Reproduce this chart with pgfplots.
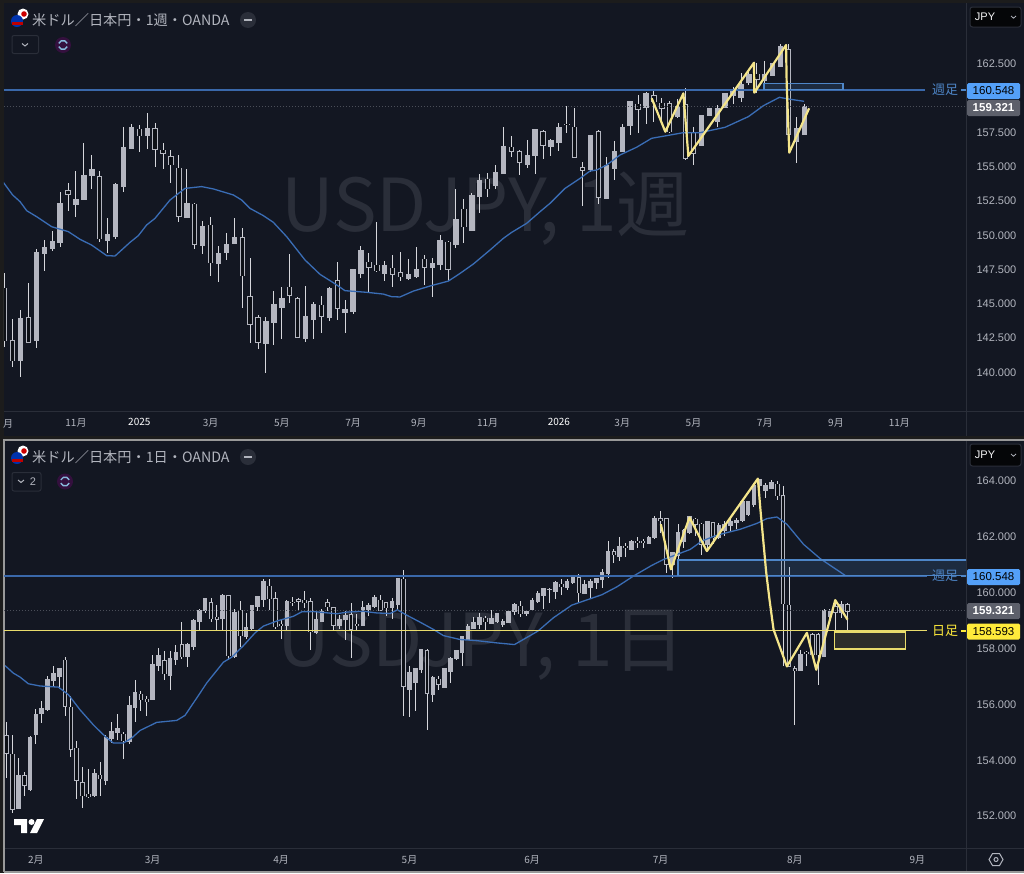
\documentclass[border=0pt]{standalone}
\usepackage{fontspec}
\usepackage{pgfplots}
\usepackage{pgfplotstable}
\pgfplotsset{compat=1.18}
\setmainfont{Liberation Sans}
\newfontfamily\cjk{Noto Sans CJK JP}

\definecolor{page}{HTML}{1C1C1C}
\definecolor{panel}{HTML}{131722}
\definecolor{sep}{HTML}{2A2E39}
\definecolor{tickc}{HTML}{B2B5BE}
\definecolor{wick}{HTML}{D6D7DC}
\definecolor{bodyc}{HTML}{B4B6C0}
\definecolor{hollow}{HTML}{0D1016}
\definecolor{mablue}{HTML}{3A6DB5}
\definecolor{levelblue}{HTML}{3A68AA}
\definecolor{taglight}{HTML}{4E86C8}
\definecolor{zig}{HTML}{F4E58A}
\definecolor{dailyline}{HTML}{E9DC6C}
\definecolor{watermark}{HTML}{2A2E39}
\definecolor{blueflag}{HTML}{54A0F8}
\definecolor{greyflag}{HTML}{5D606B}
\definecolor{yelflag}{HTML}{FFEB3B}
\definecolor{dots}{HTML}{4A4E58}

% weekly candles
\pgfplotstableread{
i o h l c
0 146.04 147.18 141.78 142.22
1 142.22 143.77 140.27 140.75
2 140.75 144.46 139.54 143.85
3 143.90 146.40 142.07 142.12
4 142.22 148.89 141.66 148.64
5 148.60 149.57 147.33 149.03
6 148.94 150.25 148.79 149.47
7 149.42 153.10 149.08 152.25
8 153.17 153.76 151.71 152.91
9 152.20 154.63 151.23 152.54
10 152.56 156.63 152.54 154.29
11 154.32 155.80 153.27 154.68
12 154.20 154.63 149.45 149.67
13 149.57 151.15 148.60 149.96
14 149.81 153.71 149.67 153.59
15 153.51 157.85 153.10 156.34
16 156.27 158.02 156.24 157.75
17 157.65 157.97 155.97 157.19
18 157.17 158.82 156.19 157.68
19 157.68 158.09 154.93 156.19
20 156.14 156.63 154.73 155.90
21 155.66 156.14 153.71 155.07
22 154.80 155.80 150.91 151.32
23 151.25 154.76 151.18 152.25
24 152.18 152.25 148.89 149.25
25 149.18 150.93 148.55 150.59
26 150.64 151.23 146.94 147.91
27 147.87 149.13 146.53 148.55
28 148.69 150.11 148.11 149.25
29 149.30 151.15 149.28 149.76
30 149.74 150.45 144.58 146.96
31 145.43 148.23 142.07 143.41
32 143.90 144.07 141.58 142.09
33 142.02 143.97 139.88 143.63
34 143.53 145.87 141.90 144.87
35 144.63 146.11 142.34 145.31
36 146.11 148.55 144.94 145.55
37 145.28 145.38 142.39 142.48
38 142.41 146.21 142.14 143.97
39 143.80 145.02 142.34 144.82
40 144.80 145.48 142.75 144.02
41 143.94 146.16 143.68 146.06
42 146.60 147.94 143.73 144.58
43 144.27 145.19 142.78 144.46
44 144.33 147.48 144.18 147.43
45 147.13 149.13 146.77 148.77
46 147.94 148.64 145.80 147.57
47 147.72 150.88 147.28 147.33
48 147.13 148.01 146.57 147.67
49 147.50 148.45 146.16 147.09
50 147.18 148.72 146.57 146.89
51 146.77 148.16 146.65 147.06
52 146.89 149.06 146.77 147.38
53 148.16 148.50 146.28 147.57
54 147.55 148.23 145.43 147.87
55 147.82 149.91 147.38 149.50
56 149.42 149.47 146.57 147.43
57 149.28 153.27 149.01 151.08
58 151.81 152.54 149.37 150.54
59 150.30 153.03 150.25 152.83
60 152.76 154.37 151.52 153.95
61 154.00 154.44 152.73 153.32
62 153.59 155.02 153.30 154.49
63 154.42 157.85 154.37 156.39
64 156.36 157.17 155.61 156.05
65 156.00 156.14 154.32 155.24
66 155.07 156.87 154.85 155.75
67 155.78 157.68 154.37 157.65
68 157.48 157.61 155.49 156.48
69 156.39 156.95 155.71 156.80
70 156.68 158.09 156.05 157.82
71 158.04 159.33 157.41 157.99
72 157.80 159.18 155.56 155.63
73 154.83 155.27 152.05 154.66
74 154.73 157.24 154.51 157.17
75 157.48 157.61 152.22 152.69
76 152.61 155.61 152.54 154.98
77 154.78 156.80 153.95 156.02
78 156.07 158.04 156.02 157.75
79 157.95 159.72 157.24 159.67
80 159.50 160.16 157.36 159.14
81 159.26 160.36 158.04 160.28
82 160.11 160.43 158.21 159.67
83 159.55 159.92 158.20 159.19
84 159.50 159.75 157.40 157.48
85 158.63 159.90 158.50 159.31
86 159.43 160.65 155.40 155.54
87 157.45 157.80 155.05 155.90
88 156.51 158.70 156.46 158.63
89 158.67 159.19 158.62 159.14
90 158.21 159.40 157.85 159.19
91 159.26 160.29 159.20 160.24
92 160.16 160.77 159.50 160.50
93 159.99 161.74 159.68 160.90
94 161.09 161.87 160.89 161.62
95 161.67 162.48 160.30 161.33
96 161.21 162.67 160.65 161.62
97 161.57 162.50 161.55 162.48
98 162.23 163.89 162.18 163.69
99 163.45 163.89 157.25 157.31
100 156.77 158.53 155.22 157.73
101 157.31 159.50 157.28 159.32
}\weekly

% daily candles
\pgfplotstableread{
i o h l c
0 154.84 155.34 153.31 154.21
1 154.17 154.87 152.08 152.20
2 152.22 154.05 152.20 153.40
3 153.40 153.55 152.68 153.07
4 152.92 154.81 152.87 154.77
5 154.89 155.79 154.54 155.58
6 155.63 156.06 155.28 155.79
7 155.76 156.96 155.70 156.84
8 156.80 157.31 156.57 157.05
9 156.96 157.25 156.50 157.23
10 157.53 157.65 155.52 155.88
11 155.85 156.26 154.07 154.35
12 154.39 154.63 152.56 153.25
13 153.16 153.73 152.24 152.69
14 152.74 153.64 152.62 152.66
15 152.68 153.64 152.63 153.49
16 153.42 153.91 152.68 153.29
17 153.22 154.87 153.07 154.78
18 154.73 155.34 154.57 154.99
19 154.95 155.62 154.69 155.08
20 154.89 154.98 153.99 154.65
21 154.63 156.26 154.54 155.90
22 155.85 156.81 155.34 156.37
23 156.32 156.42 155.70 156.12
24 156.13 156.24 155.52 156.05
25 156.12 157.73 156.11 157.36
26 157.36 157.97 157.13 157.70
27 157.52 157.85 156.84 157.04
28 156.98 157.85 156.45 157.58
29 157.54 158.09 157.37 157.79
30 158.08 158.90 157.58 157.65
31 157.65 158.13 157.28 158.08
32 158.02 158.99 157.89 158.96
33 158.93 159.37 158.57 159.32
34 159.32 159.76 159.22 159.73
35 159.58 159.76 158.89 159.01
36 159.07 159.52 158.60 158.99
37 159.01 159.88 158.57 159.86
38 159.84 159.84 157.53 157.70
39 157.65 159.37 157.62 159.25
40 159.32 159.64 158.00 158.41
41 158.39 159.22 158.29 158.69
42 158.65 159.52 158.60 159.49
43 159.44 159.84 159.28 159.80
44 159.70 160.42 159.44 160.33
45 160.18 160.45 159.34 159.73
46 159.73 159.96 158.65 158.72
47 158.81 158.99 158.29 158.78
48 158.78 159.70 158.60 159.62
49 159.61 159.80 159.46 159.58
50 159.69 159.76 159.34 159.64
51 159.68 160.00 159.40 159.58
52 159.62 159.76 157.89 158.55
53 158.53 159.28 158.48 158.99
54 158.93 159.37 158.89 159.27
55 159.58 159.73 159.28 159.44
56 159.40 159.44 158.59 158.79
57 158.77 159.16 158.63 158.97
58 158.99 159.28 158.27 159.13
59 159.16 159.56 157.61 158.63
60 158.82 159.20 158.59 158.79
61 158.77 159.64 158.75 159.40
62 159.34 159.58 159.10 159.49
63 159.46 159.86 159.40 159.76
64 159.68 159.86 159.28 159.32
65 159.58 159.61 159.10 159.40
66 159.43 159.76 158.99 159.62
67 159.52 160.48 159.34 160.44
68 160.42 160.74 155.55 156.60
69 156.48 157.31 155.50 157.08
70 156.72 157.25 155.70 157.25
71 157.19 157.91 157.07 157.91
72 157.87 157.93 155.02 156.36
73 156.31 156.96 156.04 156.92
74 156.86 156.96 156.45 156.68
75 156.57 157.25 156.54 157.23
76 157.13 157.65 156.72 157.60
77 157.58 157.91 157.55 157.87
78 157.82 158.41 157.31 158.39
79 158.29 158.83 158.27 158.75
80 158.65 159.08 158.63 158.87
81 158.81 159.22 158.65 159.07
82 159.04 159.10 158.59 158.90
83 158.84 159.32 158.81 159.01
84 158.90 159.22 158.87 159.20
85 158.79 159.01 158.72 158.92
86 158.88 159.32 158.85 159.28
87 159.28 159.58 159.16 159.52
88 159.46 159.64 159.08 159.20
89 159.19 159.34 159.10 159.28
90 159.33 159.75 159.31 159.68
91 159.62 159.99 159.58 159.92
92 159.85 160.12 159.37 160.08
93 160.06 160.11 159.58 160.07
94 159.99 160.35 159.73 160.32
95 160.25 160.42 159.85 160.16
96 160.12 160.42 160.04 160.36
97 160.30 160.59 160.26 160.56
98 160.48 160.60 159.56 159.94
99 159.92 160.38 159.90 160.23
100 160.13 160.42 159.73 160.36
101 160.31 160.48 160.06 160.45
102 160.42 160.80 160.12 160.67
103 160.63 161.79 160.48 161.42
104 161.40 161.49 160.99 161.30
105 161.23 161.95 161.08 161.60
106 161.60 161.73 161.23 161.58
107 161.49 161.83 161.48 161.79
108 161.79 161.93 161.55 161.75
109 161.78 161.87 161.53 161.75
110 161.71 161.97 161.70 161.92
111 161.91 162.69 161.87 162.59
112 162.59 162.87 162.09 162.51
113 162.59 162.63 160.66 160.96
114 160.96 161.37 160.48 161.37
115 161.28 162.39 160.96 162.09
116 161.79 162.21 161.55 162.15
117 162.09 162.69 162.03 162.65
118 162.57 162.63 161.97 162.39
119 162.39 162.45 161.28 161.67
120 161.67 162.51 161.43 162.48
121 162.45 162.47 161.67 161.91
122 161.91 162.45 161.87 162.33
123 162.15 162.51 161.97 162.39
124 162.33 162.63 162.15 162.48
125 162.45 162.63 162.21 162.51
126 162.51 163.22 162.47 163.20
127 162.75 163.22 162.69 163.20
128 163.10 163.88 163.02 163.76
129 163.76 164.02 163.70 163.98
130 163.58 163.88 163.34 163.76
131 163.67 163.96 163.64 163.88
132 163.82 163.94 163.25 163.40
133 163.40 163.74 157.31 159.55
134 159.49 160.87 157.29 157.31
135 157.22 157.31 155.22 157.17
136 157.17 157.91 157.16 157.73
137 157.82 157.87 157.31 157.77
138 158.45 158.51 157.70 157.73
139 158.45 158.51 156.66 157.73
140 157.67 159.37 157.65 159.31
141 159.10 159.37 158.93 159.28
142 159.44 159.64 158.60 159.25
143 159.25 159.64 159.05 159.52
144 159.52 159.56 158.60 159.28
}\daily

% wick, body and the dark inside of the down candles; #2 body width, #3 half outline in price
\newcommand{\candles}[3]{
  \addplot[draw=none, mark=none, error bars/.cd, y dir=both, y explicit, error mark=none,
    error bar style={draw=wick, line width=1pt}]
    table[x=i, y=c, y error plus expr=\thisrow{h}-\thisrow{c}, y error minus expr=\thisrow{c}-\thisrow{l}] {#1};
  \addplot[draw=none, mark=none, error bars/.cd, y dir=both, y explicit, error mark=none,
    error bar style={draw=bodyc, line width=#2pt}]
    table[x=i, y expr=(\thisrow{o}+\thisrow{c})/2, y error expr=abs(\thisrow{o}-\thisrow{c})/2+#3] {#1};
  \addplot[draw=none, mark=none, error bars/.cd, y dir=both, y explicit, error mark=none,
    error bar style={draw=hollow, line width=#2pt-2pt}]
    table[x=i, y expr={\thisrow{o}>\thisrow{c} ? (\thisrow{o}+\thisrow{c})/2 : nan}, y error expr=abs(\thisrow{o}-\thisrow{c})/2] {#1};
}

\pgfplotsset{
  panel/.style={
    scale only axis, width=962pt, anchor=south west,
    axis line style={draw=none}, major tick length=0pt,
    xtick pos=bottom, ytick pos=right,
    x tick label style={font=\cjk\fontsize{10}{12}\selectfont, text=tickc, yshift=-4pt},
    y tick label style={font=\fontsize{11}{13}\selectfont, text=tickc, xshift=7pt, yshift=-1.2pt},
    /pgf/number format/.cd, fixed, fixed zerofill, precision=3, 1000 sep={}, assume math mode=true,
  },
}

\newcommand{\pricebox}[5]{% y, fill, text colour, label, weight
  \fill[#2, rounded corners=1.5pt] (967,#1-8) rectangle (1020,#1+8);
  \node[text=#3, font=\fontsize{11.5}{13}#5\selectfont] at (993.5,#1) {#4};
}

\begin{document}
\begin{tikzpicture}[x=1pt, y=-1pt]
\path[use as bounding box, fill=page] (0,0) rectangle (1024,873);
% panes
\fill[panel] (4,3) rectangle (1024,436);
\fill[panel] (4,440) rectangle (1024,871);
\draw[sep, line width=1pt] (4,411) -- (1024,411) (966,3) -- (966,436);
\draw[sep, line width=1pt] (4,848) -- (1024,848) (966,440) -- (966,871);
\draw[white!55!page, line width=2pt] (3.5,871.5) -- (3.5,439.5) -- (1024,439.5) (3.5,871.5) -- (1024,871.5);
% watermarks
\node[text=watermark, font=\cjk\fontsize{73}{80}\selectfont] at (485.5,209) {USDJPY, 1週};
\node[text=watermark, font=\cjk\fontsize{73}{80}\selectfont] at (481.5,645) {USDJPY, 1日};

\begin{axis}[panel, at={(4pt,-411pt)}, height=408pt,
  xmin=-0.09, xmax=121.42, ymin=137.08, ymax=166.88,
  xtick={9,17,26,35,44,52.3,61,70,78,87,96,105,113},
  xticklabels={11月,\textcolor{white}{2025},3月,5月,7月,9月,11月,\textcolor{white}{2026},3月,5月,7月,9月,11月},
  ytick={140,142.5,145,147.5,150,152.5,155,157.5,162.5},
]
\candles{\weekly}{5.4}{0.04}
\addplot[draw=mablue, line width=1.3pt] coordinates {
 (-0.17,153.78)(1,152.86)(1.94,152.37)(2.78,151.71)(4.04,151.27)(5.94,150.54)(8.04,150.18)(9.51,149.62)
 (10.98,149.20)(12.88,148.43)(13.93,148.40)(15.83,149.40)(16.88,149.89)(17.93,150.67)(18.98,151.15)
 (20.88,152.49)(22.77,153.34)(24.88,153.47)(26.35,153.30)(28.88,152.86)(29.93,152.49)(30.98,151.88)
 (32.67,151.35)(33.93,150.86)(35.62,149.81)(37.93,148.11)(39.83,147.06)(41.64,146.40)(42.98,145.87)
 (45.72,145.75)(47.83,145.62)(48.88,145.43)(49.93,145.41)(51.62,145.84)(53.72,146.21)(56.04,146.57)
 (57.51,147.13)(59.2,147.82)(61.3,148.84)(62.98,149.69)(64.04,150.13)(65.93,150.79)(67.62,151.64)
 (68.88,152.25)(70.77,153.34)(72.67,154.07)(73.93,154.61)(74.77,154.68)(76.04,155.05)(77.72,155.78)
 (79.83,156.35)(81.72,157.0)(83.4,157.17)(85.72,157.41)(87.83,157.41)(90.98,157.80)(93.93,158.58)
 (95.83,159.38)(97.85,159.99)(99.2,159.85)(100.96,159.70)};
\addplot[draw=dots, dotted, line width=1pt] coordinates {(-0.09,159.321)(121.42,159.321)};
\addplot[draw=levelblue, line width=1.8pt] coordinates {(-0.09,160.548)(116.24,160.548)};
\addplot[draw=taglight, line width=1.6pt, fill=taglight, fill opacity=0.18, draw opacity=1]
  coordinates {(95.9,160.55)(105.9,160.55)(105.9,161.01)(95.9,161.01)} -- cycle;
\addplot[draw=zig, line width=2.2pt, line join=round] coordinates {
 (81.72,159.92)(83.44,157.48)(85.72,160.28)(86.35,155.71)(94.64,162.52)(94.68,160.33)
 (98.69,163.81)(98.77,161.01)(99.1,155.95)(101.6,159.19)};
\end{axis}

\begin{axis}[panel, at={(4pt,-848pt)}, height=408pt,
  xmin=-0.46, xmax=164.32, ymin=150.82, ymax=165.40,
  xtick={5,25,47,69,90,112,135,156},
  xticklabels={2月,3月,4月,5月,6月,7月,8月,9月},
  ytick={152,154,156,158,160,162,164},
]
\candles{\daily}{4.6}{0.018}
\addplot[draw=mablue, line width=1.3pt] coordinates {
 (-0.29,157.34)(1.14,157.07)(2.28,156.93)(3.71,156.69)(5.71,156.61)(8.85,156.57)(10.57,156.30)(12.56,155.76)
 (14.85,155.22)(16.85,154.81)(18.28,154.57)(19.99,154.57)(21.42,154.75)(22.84,155.02)(25.7,155.31)
 (29.13,155.38)(30.55,155.56)(32.55,156.18)(34.27,156.72)(37.12,157.46)(38.55,157.64)(40.55,158.05)
 (42.55,158.51)(43.97,158.75)(46.26,158.93)(49.11,159.10)(50.54,159.26)(52.54,159.27)(56.54,159.19)
 (58.25,159.25)(61.11,159.28)(63.39,159.22)(65.68,159.20)(66.93,159.33)(68.53,159.14)(70.82,158.89)
 (73.1,158.63)(74.82,158.41)(77.67,158.27)(80.53,158.23)(83.96,158.15)(86.98,158.09)(90.98,158.57)
 (93.66,159.05)(96.8,159.50)(101.94,159.87)(104.5,160.15)(107.37,160.54)(110.5,160.92)(112.5,161.13)
 (117.08,161.49)(119.08,161.79)(121.65,162.0)(125.64,162.21)(128.5,162.42)(130.2,162.59)(131.93,162.65)
 (133.64,162.39)(136.5,161.67)(139.35,161.16)(143.63,160.56)};
\addplot[draw=dots, dotted, line width=1pt] coordinates {(-0.46,159.321)(164.32,159.321)};
\addplot[draw=levelblue, line width=1.8pt] coordinates {(-0.46,160.548)(157.6,160.548)};
\addplot[draw=dailyline, line width=1.2pt] coordinates {(-0.46,158.593)(157.6,158.593)};
\addplot[draw=taglight, line width=1.6pt, fill=taglight, fill opacity=0.18, draw opacity=1]
  coordinates {(114.96,160.56)(165,160.56)(165,161.11)(114.96,161.11)} -- cycle;
\addplot[draw=dailyline, line width=1.2pt, fill=dailyline, fill opacity=0.12, draw opacity=1]
  coordinates {(141.8,157.93)(153.99,157.93)(153.99,158.54)(141.8,158.54)} -- cycle;
\addplot[draw=zig, line width=2.2pt, line join=round] coordinates {
 (112.05,162.39)(113.77,160.78)(116.96,162.63)(119.93,161.43)(128.67,164.02)(129.1,162.93)(130.1,160.66)
 (130.66,159.70)(131.35,158.63)(133.64,157.31)(137.07,158.51)(138.67,157.19)(141.92,159.68)(144.03,158.98)};
\end{axis}

% clipped label at the left of the weekly time scale
\node[text=tickc, font=\cjk\fontsize{10}{12}\selectfont] at (8,423.5) {月};
% level tags
\node[text=taglight, font=\cjk\fontsize{13}{15}\selectfont] at (945,89.5) {週足};
\draw[taglight, line width=1.6pt] (961,90) -- (966,90);
\node[text=taglight, font=\cjk\fontsize{13}{15}\selectfont] at (945,576) {週足};
\draw[taglight, line width=1.6pt] (961,576.5) -- (966,576.5);
\node[text=yelflag, font=\cjk\fontsize{13}{15}\selectfont] at (945,630.5) {日足};
\draw[yelflag, line width=1.2pt] (961,631) -- (966,631);
% price flags
\pricebox{91}{blueflag}{black}{160.548}{}
\pricebox{108}{greyflag}{white}{159.321}{\bfseries}
\pricebox{577}{blueflag}{black}{160.548}{}
\pricebox{611}{greyflag}{white}{159.321}{\bfseries}
\pricebox{631.5}{yelflag}{black}{158.593}{}
% currency buttons
\foreach \y/\yb in {7/27,444/466}{
  \draw[sep, fill=black!75!panel, rounded corners=2.5pt, line width=1pt] (970,\y) rectangle (1021,\yb);
  \node[text=white!85!tickc, font=\fontsize{11}{13}\selectfont] at (985,{(\y+\yb)/2}) {JPY};
  \draw[tickc, line width=.8pt] (1011,{(\y+\yb)/2-1}) -- (1013.5,{(\y+\yb)/2+1.2}) -- (1016,{(\y+\yb)/2-1});
}
% legend rows
\foreach \y/\t in {20/1週,457/1日}{
  \fill[white] (23,\y-6) circle (5.5pt);
  \fill[red!80!black] (24,\y-6) circle (2.8pt);
  \fill[blue!60!black!80!cyan] (17,\y+1) circle (6pt);
  \fill[red!75!black] (11.5,\y+2) rectangle (22.5,\y+5);
  \node[anchor=west, text=tickc, font=\cjk\fontsize{14.2}{16}\selectfont, inner sep=0pt] at (32,\y) {米ドル／日本円・\t・OANDA};
  \fill[sep] (248,\y) circle (8pt);
  \fill[tickc] (244,\y-1.2) rectangle (252,\y+1.2);
}
\draw[sep, rounded corners=2pt, line width=1pt] (12,35.5) rectangle (38.5,53.5);
\draw[tickc, line width=1pt] (22,43.5) -- (25,46) -- (28,43.5);
\draw[sep, rounded corners=2pt, line width=1pt] (12,472.5) rectangle (41,491);
\draw[tickc, line width=1pt] (18,480) -- (21,482.5) -- (24,480);
\node[text=tickc, font=\fontsize{11}{13}\selectfont] at (33,481.5) {2};
\foreach \x/\y in {63/45,65/481.5}{
  \fill[violet!30!panel] (\x,\y) circle (8pt);
  \draw[violet!45!cyan!60!white, line width=1.4pt] (\x,\y) ++(20:4.5pt) arc (20:160:4.5pt);
  \draw[violet!45!cyan!60!white, line width=1.4pt] (\x,\y) ++(200:4.5pt) arc (200:340:4.5pt);
}
% logo
\fill[white] (14,819) -- (27,819) -- (27,833) -- (21,833) -- (21,825) -- (14,825) -- cycle;
\fill[white] (31.5,822) circle (3pt);
\fill[white] (37,819) -- (44,819) -- (37,833) -- (30,833) -- cycle;
% settings
\draw[tickc, line width=1pt] (1003,859.5) -- (999.5,865.5) -- (992.5,865.5) -- (989,859.5) -- (992.5,853.5) -- (999.5,853.5) -- cycle;
\draw[tickc, line width=1pt] (996,859.5) circle (2pt);
\end{tikzpicture}
\end{document}
